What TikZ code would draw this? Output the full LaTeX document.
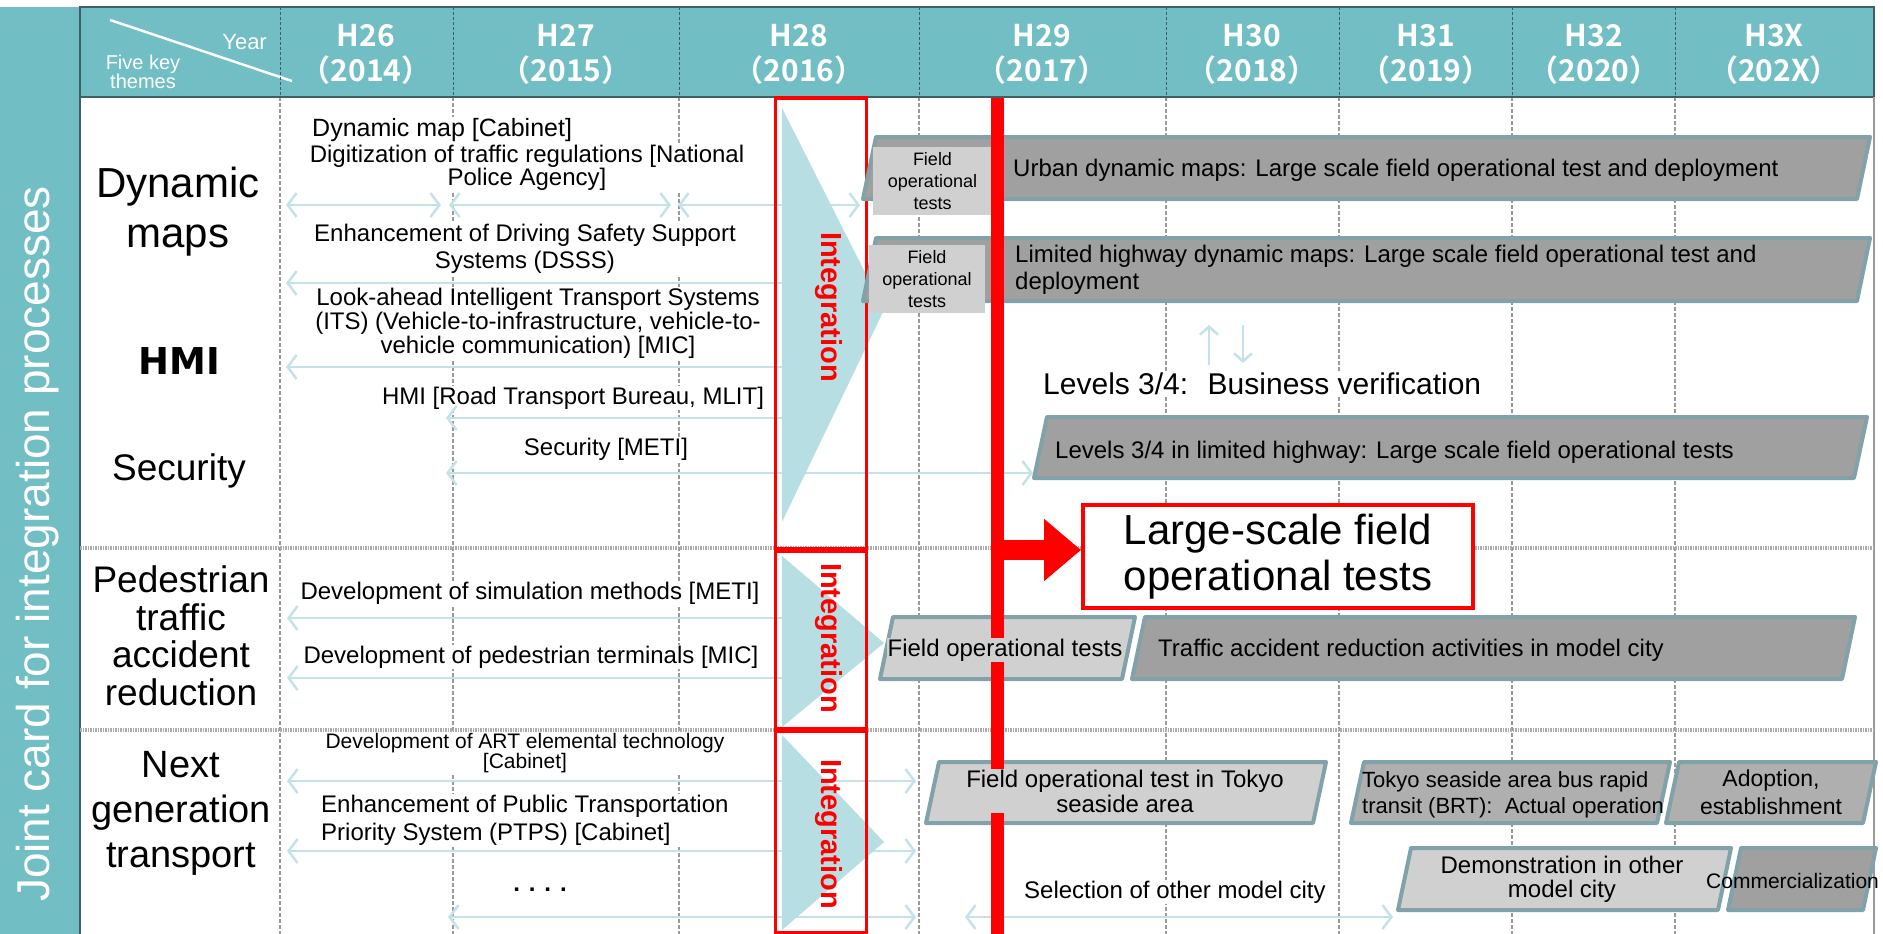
\documentclass[tikz,border=0pt]{standalone}
\usepackage{fontspec}
\setmainfont{Liberation Sans}
\newfontfamily\hdrfont{Noto Sans CJK JP Bold}
\newfontfamily\hmifont{DejaVu Sans}
\usetikzlibrary{arrows.meta}
\definecolor{hdrteal}{HTML}{71BEC4}
\definecolor{hdrline}{HTML}{3F5F63}
\definecolor{arrblue}{HTML}{C3E3E8}
\definecolor{triblue}{HTML}{B7DEE3}
\definecolor{bardark}{HTML}{A0A0A0}
\definecolor{barmid}{HTML}{AFAFAF}
\definecolor{barlight}{HTML}{D0D0D0}
\definecolor{baredge}{HTML}{80A2A8}
\definecolor{gridgray}{HTML}{9A9A9A}
\begin{document}
\begin{tikzpicture}[x=1pt,y=-1pt,
  yearlbl/.style={text=white,align=center,inner sep=0pt,font=\hdrfont\fontsize{30}{35}\selectfont},
  hdrsmall/.style={text=white,inner sep=0pt,font=\fontsize{22}{22}\selectfont},
  gridl/.style={draw=gridgray,line width=1.2pt,dash pattern=on 4pt off 2pt},
  divl/.style={draw=gray!65,line width=4pt,dash pattern=on 1.5pt off 1pt},
  theme/.style={align=center,inner sep=0pt},
  task/.style={fill=white,inner sep=1pt,align=center,font=\fontsize{24}{24}\selectfont},
  twoway/.style={draw=arrblue,line width=2.5pt,{Straight Barb[length=9pt,width=24pt]}-{Straight Barb[length=9pt,width=24pt]}},
  oneway/.style={draw=arrblue,line width=2.5pt,{Straight Barb[length=9pt,width=24pt]}-},
  vertarr/.style={draw=arrblue,line width=2.5pt,-{Straight Barb[length=8pt,width=18pt]}},
  intbox/.style={draw=red,line width=3pt},
  inttxt/.style={text=red,rotate=-90,inner sep=0pt,font=\bfseries\fontsize{29}{29}\selectfont},
  bar/.style={draw=baredge,line width=4pt,line join=round},
  fotbox/.style={fill=barlight,inner sep=0pt,align=center,font=\fontsize{18}{22}\selectfont},
  bartxt/.style={anchor=west,inner sep=1pt,font=\fontsize{24}{27}\selectfont},
  lsbox/.style={draw=red,line width=4pt,fill=white,minimum width=390pt,minimum height=103pt,inner sep=0pt,align=center,font=\fontsize{42}{46}\selectfont},
  bigarr/.style={draw=red,line width=20pt,-{Triangle[length=37pt,width=60pt]}},
  redline/.style={draw=red,line width=13pt}]
\useasboundingbox (0,0) rectangle (1883,934);
\fill[white] (0,0) rectangle (1883,934);
\fill[hdrteal] (0,7) rectangle (80,934);
\draw[hdrline,line width=1.5pt] (80,7) -- (80,934);
\node[text=white,rotate=90,inner sep=0pt,font=\fontsize{46}{46}\selectfont] (band) at (38,544) {Joint card for integration processes};
\filldraw[fill=hdrteal,draw=hdrline,line width=1.5pt] (80,7) rectangle (1874,97);
\draw[white,line width=2.5pt] (110,20) -- (292,81);
\node[hdrsmall,anchor=east] (year) at (267,42) {Year};
\node[hdrsmall,align=center,font=\fontsize{20}{18}\selectfont] (themes) at (143,72) {Five key\\themes};
\foreach \x in {280,453,679,919,1166,1339,1512,1675}{
\draw[hdrline,densely dashed,line width=1pt] (\x,7) -- (\x,97);
\draw[gridl] (\x,97) -- (\x,934);
}
\foreach \x/\h/\yr in {366/H26/2014,566/H27/2015,799/H28/2016,1042/H29/2017,1252/H30/2018,1426/H31/2019,1594/H32/2020,1774/H3X/202X}{
\node[yearlbl] (\h) at (\x,54) {\h\\（\yr）};
}
\draw[hdrline,line width=2.5pt] (80,97) -- (1874,97);
\draw[gridgray,line width=1.5pt] (1874,97) -- (1874,934);
\foreach \y in {548,730}{
\draw[divl] (80,\y) -- (1874,\y);
}

\node[theme,font=\fontsize{42}{50}\selectfont] (dynmaps) at (178,212) {Dynamic\\maps};
\node[theme,font=\hmifont\bfseries\fontsize{37}{40}\selectfont] (hmi) at (179,361) {HMI};
\node[theme,font=\fontsize{37}{40}\selectfont] (security) at (179,471) {Security};
\node[theme,font=\fontsize{37}{37.5}\selectfont] (pedestrian) at (181,636) {Pedestrian\\traffic\\accident\\reduction};
\node[theme,font=\fontsize{38}{45}\selectfont] (nextgen) at (181,813) {Next\\generation\\transport};

\node[task,anchor=west,font=\fontsize{25}{28}\selectfont] (cabinet) at (311,130) {Dynamic map [Cabinet]};
\node[task,font=\fontsize{24}{23}\selectfont] (digit) at (527,168) {Digitization of traffic regulations [National\\Police Agency]};
\node[task,font=\fontsize{24}{27}\selectfont] (dsss) at (525,249) {Enhancement of Driving Safety Support\\Systems (DSSS)};
\node[task] (its) at (538,323) {Look-ahead Intelligent Transport Systems\\(ITS) (Vehicle-to-infrastructure, vehicle-to-\\vehicle communication) [MIC]};
\node[task] (hmitask) at (573,398) {HMI [Road Transport Bureau, MLIT]};
\node[task] (sectask) at (606,449) {Security [METI]};
\node[task] (simul) at (530,593) {Development of simulation methods [METI]};
\node[task] (pedterm) at (531,657) {Development of pedestrian terminals [MIC]};
\node[task,font=\fontsize{21}{20}\selectfont] (art) at (525,753) {Development of ART elemental technology\\{[Cabinet]}};
\node[task,align=left,anchor=west,font=\fontsize{24}{28}\selectfont] (ptps) at (320,820) {Enhancement of Public Transportation\\Priority System (PTPS) [Cabinet]};
\node[task,font=\bfseries\fontsize{24}{24}\selectfont] (dots) at (540,890) {. . . .};

\foreach \n/\xa/\xb/\y in {1/286/441/205,2/449/671/205,3/678/860/205,4/446/1033/473,5/287/916/781,6/287/916/851,7/448/916/917,8/965/1393/917}{
\coordinate (ba\n) at (\xa,\y);
\coordinate (bb\n) at (\xb,\y);
\draw[twoway] (ba\n) -- (bb\n);
}
\foreach \n/\xa/\y in {1/286/283,2/286/367,3/446/418,4/287/618,5/287/678}{
\coordinate (oa\n) at (\xa,\y);
\coordinate (ob\n) at (800,\y);
\draw[oneway] (oa\n) -- (ob\n);
}
\coordinate (upA) at (1209,365);
\coordinate (upB) at (1209,325);
\coordinate (dnA) at (1243,325);
\coordinate (dnB) at (1243,363);
\draw[vertarr] (upA) -- (upB);
\draw[vertarr] (dnA) -- (dnB);

\foreach \ya/\yb/\yc in {108/310/522,556/643/727,735/842/930}{
\fill[triblue] (782,\ya) -- (884,\yb) -- (782,\yc) -- cycle;
}
\foreach \n/\ya/\yb/\ym in {1/98/550/307,2/550/730/638,3/730/932/834}{
\draw[intbox] (775,\ya) rectangle (866,\yb);
\node[inttxt] (int\n) at (829,\ym) {Integration};
}
\foreach \y in {550,730}{
\draw[red,line width=6pt] (775,\y) -- (866,\y);
}

\foreach \xa/\xb/\ya/\yb/\f in {876/1870/137/199/bardark,876/1870/238/301/bardark,1047/1867/417/478/bardark,893/1135/617/679/barlight,1145/1855/617/679/bardark,939/1326/762/823/barlight,1364/1670/762/823/barmid,1679/1876/762/823/barmid,1411/1731/848/910/barlight,1741/1876/848/910/bardark}{
\draw[bar,fill=\f] (\xa,\ya) -- (\xb,\ya) -- (\xb-13,\yb) -- (\xa-13,\yb) -- cycle;
}
\node[fotbox,minimum width=119pt,minimum height=68pt] (fot1) at (932.5,181) {Field\\operational\\tests};
\node[fotbox,minimum width=116pt,minimum height=68pt] (fot2) at (927,279) {Field\\operational\\tests};

\coordinate (rtop) at (997,98);
\coordinate (rbot) at (997,934);
\draw[redline] (rtop) -- (rbot);
\node[lsbox] (lsbox) at (1278,556.5) {Large-scale field\\operational tests};
\coordinate (rmid) at (997,550);
\draw[bigarr] (rmid) -- (rmid -| lsbox.west);

\node[bartxt] (urban) at (1012,170) {Urban dynamic maps: Large scale field operational test and deployment};
\node[bartxt,align=left] (limited) at (1014,270) {Limited highway dynamic maps: Large scale field operational test and\\deployment};
\node[bartxt] (lvl34) at (1054,452) {Levels 3/4 in limited highway: Large scale field operational tests};
\node[bartxt,fill=barlight,anchor=center] (pedfot) at (1005,650) {Field operational tests};
\node[bartxt] (traffic) at (1157,650) {Traffic accident reduction activities in model city};
\node[bartxt,fill=barlight,anchor=center,align=center,font=\fontsize{24}{25}\selectfont] (tokyo) at (1125,791) {Field operational test in Tokyo\\seaside area};
\node[bartxt,align=left,font=\fontsize{22}{26}\selectfont] (brt) at (1361,795) {Tokyo seaside area bus rapid\\transit (BRT):~ Actual operation};
\node[bartxt,anchor=center,align=center,font=\fontsize{23}{28}\selectfont] (adopt) at (1771,792) {Adoption,\\establishment};
\node[bartxt,anchor=center,align=center,font=\fontsize{24}{24}\selectfont] (demo) at (1562,879) {Demonstration in other\\model city};
\node[bartxt,font=\fontsize{21}{21}\selectfont] (commer) at (1705,881) {Commercialization};
\node[bartxt,fill=white] (selection) at (1023,892) {Selection of other model city};
\node[bartxt,fill=white,font=\fontsize{30}{30}\selectfont] (business) at (1042,384) {Levels 3/4:~ Business verification};
\end{tikzpicture}
\end{document}
